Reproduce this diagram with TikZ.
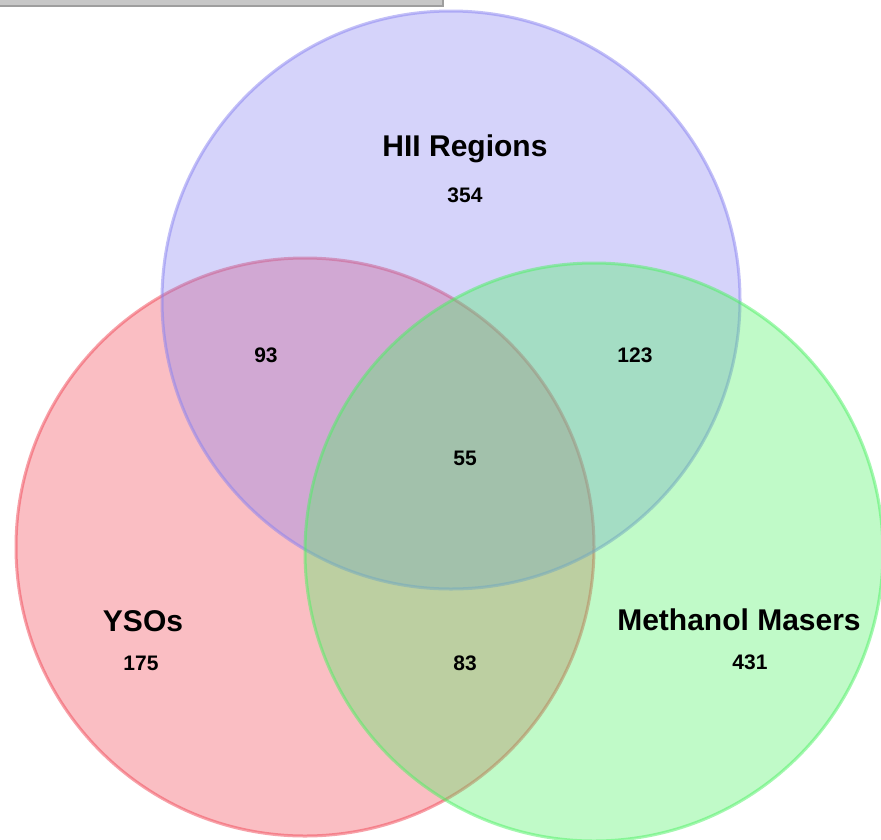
\documentclass[tikz,border=0pt]{standalone}
\usepackage{fontspec}
\setmainfont{Liberation Sans}
\definecolor{cblue}{RGB}{135,129,241}
\definecolor{cred}{RGB}{241,69,84}
\definecolor{cgreen}{RGB}{75,241,98}
\begin{document}
\begin{tikzpicture}[x=1pt,y=-1pt,
  setcircle/.style={fill opacity=0.35, draw opacity=0.5, line width=3pt},
  title/.style={anchor=base, inner sep=0pt, font=\fontsize{30}{30}\selectfont\bfseries},
  count/.style={anchor=base, inner sep=0pt, font=\fontsize{21}{21}\selectfont\bfseries}]
\useasboundingbox (0,0) rectangle (881,839);
\begin{scope}
\clip (0,0) rectangle (881,839);
\fill[white] (0,0) rectangle (881,839);
% top bar
\fill[black!22] (-5,-5) rectangle (444,6.5);
\draw[black!38, line width=1.5pt] (-5,5.8) -- (443.2,5.8) -- (443.2,-5);
% circles: red, blue, green
\filldraw[setcircle, fill=cred, draw=cred] (305,547) circle[radius=289];
\filldraw[setcircle, fill=cblue, draw=cblue] (451,300) circle[radius=289];
\filldraw[setcircle, fill=cgreen, draw=cgreen] (594,552) circle[radius=289];
\end{scope}
% labels
\node[title] (hii) at (465,156) {HII Regions};
\node[count] (n354) at (465,202) {354};
\node[count] (n93) at (266,362) {93};
\node[count] (n123) at (635,362) {123};
\node[count] (n55) at (465,465) {55};
\node[title] (yso) at (143,631) {YSOs};
\node[count] (n175) at (141,670) {175};
\node[count] (n83) at (465,670) {83};
\node[title] (mm) at (739,630) {Methanol Masers};
\node[count] (n431) at (750,669) {431};
\end{tikzpicture}
\end{document}
